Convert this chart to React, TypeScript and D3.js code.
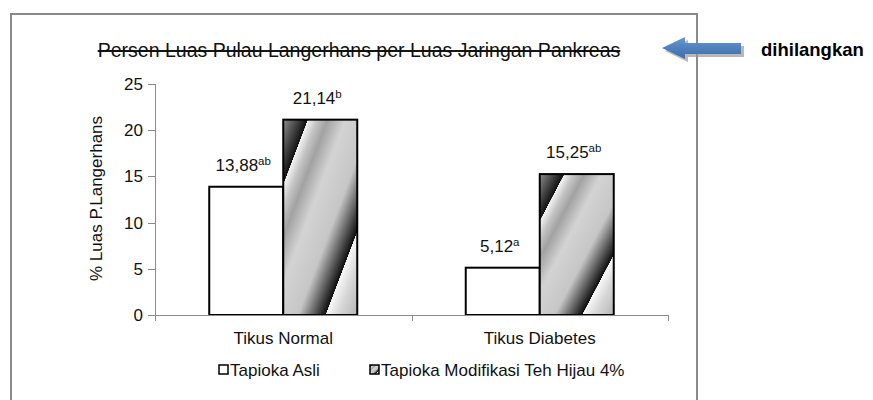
import React, { useEffect, useRef } from "react"
import * as d3 from "d3"

const categories = ["Tikus Normal", "Tikus Diabetes"]
const series = ["Tapioka Asli", "Tapioka Modifikasi Teh Hijau 4%"]
// values per category, in series order
const valuesNormal = [13.88, 21.14]
const valuesDiabetes = [5.12, 15.25]
const lettersNormal = ["ab", "b"]
const lettersDiabetes = ["a", "ab"]
const yTicks = [0, 5, 10, 15, 20, 25]

const title = "Persen Luas Pulau Langerhans per Luas Jaringan Pankreas"
const yLabel = "% Luas P.Langerhans"
const note = "dihilangkan"

const FONT = "'Liberation Sans', Arial, sans-serif"

export default function App() {
  const ref = useRef<SVGSVGElement>(null)

  useEffect(() => {
    if (!ref.current) return
    const svg = d3.select(ref.current)
    svg.selectAll("*").remove()

    const width = 873
    const height = 400
    const plot = { left: 155, right: 668, top: 84, bottom: 315 }

    const rows = categories.map((c, i) => ({
      category: c,
      values: i === 0 ? valuesNormal : valuesDiabetes,
      letters: i === 0 ? lettersNormal : lettersDiabetes,
    }))

    const x0 = d3
      .scaleBand<string>()
      .domain(categories)
      .range([plot.left, plot.right])
      .paddingInner(0.423)
      .paddingOuter(0.2115)

    const x1 = d3.scaleBand<string>().domain(series).range([0, x0.bandwidth()])

    const y = d3.scaleLinear().domain([0, 25]).range([plot.bottom, plot.top])

    // diagonal gradient stripe fill, stretched to each bar's box
    const defs = svg.append("defs")
    const grad = defs
      .append("linearGradient")
      .attr("id", "stripe")
      .attr("x1", 0)
      .attr("y1", 0)
      .attr("x2", 1)
      .attr("y2", 1)
    const stops: Array<[number, string]> = [
      [0, "#8e8e8e"],
      [0.165, "#111111"],
      [0.167, "#f4f4f4"],
      [0.23, "#c4c4c4"],
      [0.3, "#a2a2a2"],
      [0.42, "#d3d3d3"],
      [0.6, "#c6c6c6"],
      [0.785, "#0e0e0e"],
      [0.787, "#f8f8f8"],
      [0.87, "#d8d8d8"],
      [1, "#b4b4b4"],
    ]
    stops.forEach(([o, c]) => grad.append("stop").attr("offset", o).attr("stop-color", c))

    const arrowGrad = defs
      .append("linearGradient")
      .attr("id", "arrowFill")
      .attr("x1", 0)
      .attr("y1", 0)
      .attr("x2", 0)
      .attr("y2", 1)
    arrowGrad.append("stop").attr("offset", 0).attr("stop-color", "#6a98d0")
    arrowGrad.append("stop").attr("offset", 0.5).attr("stop-color", "#4f81bd")
    arrowGrad.append("stop").attr("offset", 1).attr("stop-color", "#3f6fae")

    svg.append("rect").attr("width", width).attr("height", height).attr("fill", "#ffffff")

    // chart border
    svg
      .append("rect")
      .attr("x", 11)
      .attr("y", 14)
      .attr("width", 686)
      .attr("height", 400)
      .attr("fill", "none")
      .attr("stroke", "#8a8a8a")
      .attr("stroke-width", 2)

    // title with strike-through
    svg
      .append("text")
      .attr("x", 359)
      .attr("y", 57)
      .attr("text-anchor", "middle")
      .attr("font-family", FONT)
      .attr("font-size", 19.5)
      .attr("fill", "#111")
      .attr("text-decoration", "line-through")
      .text(title)

    // y axis
    const yAxis = svg.append("g").attr("transform", `translate(${plot.left},0)`)
    yAxis
      .append("line")
      .attr("x1", 0.5)
      .attr("x2", 0.5)
      .attr("y1", y(25))
      .attr("y2", y(0))
      .attr("stroke", "#8a8a8a")
    yTicks.forEach((t) => {
      yAxis
        .append("line")
        .attr("x1", -7)
        .attr("x2", 0.5)
        .attr("y1", Math.round(y(t)) + 0.5)
        .attr("y2", Math.round(y(t)) + 0.5)
        .attr("stroke", "#8a8a8a")
      yAxis
        .append("text")
        .attr("x", -12)
        .attr("y", y(t) + 6)
        .attr("text-anchor", "end")
        .attr("font-family", FONT)
        .attr("font-size", 17)
        .attr("fill", "#111")
        .text(t)
    })

    svg
      .append("text")
      .attr("transform", `translate(102,${(y(0) + y(25)) / 2 - 1}) rotate(-90)`)
      .attr("text-anchor", "middle")
      .attr("font-family", FONT)
      .attr("font-size", 17)
      .attr("fill", "#111")
      .text(yLabel)

    // bars
    const groups = svg
      .append("g")
      .selectAll("g")
      .data(rows)
      .join("g")
      .attr("transform", (d) => `translate(${x0(d.category)},0)`)

    groups
      .selectAll("rect")
      .data((d) => d.values.map((v, i) => ({ v, s: series[i] })))
      .join("rect")
      .attr("x", (d) => x1(d.s)!)
      .attr("y", (d) => y(d.v))
      .attr("width", x1.bandwidth())
      .attr("height", (d) => y(0) - y(d.v))
      .attr("fill", (d, i) => (i === 0 ? "#ffffff" : "url(#stripe)"))
      .attr("stroke", "#000")
      .attr("stroke-width", 2)

    const labels = groups
      .selectAll("text")
      .data((d) => d.values.map((v, i) => ({ v, s: series[i], letter: d.letters[i] })))
      .join("text")
      .attr("x", (d) => x1(d.s)! + x1.bandwidth() / 2 - 3)
      .attr("y", (d) => y(d.v) - 16)
      .attr("text-anchor", "middle")
      .attr("font-family", FONT)
      .attr("font-size", 17)
      .attr("fill", "#111")
    labels.append("tspan").text((d) => d.v.toFixed(2).replace(".", ","))
    labels
      .append("tspan")
      .attr("font-size", 11.5)
      .attr("dy", -6)
      .text((d) => d.letter)

    // x axis
    const xAxis = svg.append("g")
    xAxis
      .append("line")
      .attr("x1", plot.left)
      .attr("x2", plot.right)
      .attr("y1", y(0) + 0.5)
      .attr("y2", y(0) + 0.5)
      .attr("stroke", "#8a8a8a")
    const bounds = [plot.left, ...categories.map((c) => x0(c)! + x0.bandwidth() + (x0.step() - x0.bandwidth()) / 2)]
    bounds.forEach((b) => {
      xAxis
        .append("line")
        .attr("x1", Math.round(b) + 0.5)
        .attr("x2", Math.round(b) + 0.5)
        .attr("y1", y(0))
        .attr("y2", y(0) + 6)
        .attr("stroke", "#8a8a8a")
    })
    xAxis
      .selectAll("text")
      .data(categories)
      .join("text")
      .attr("x", (d) => x0(d)! + x0.bandwidth() / 2)
      .attr("y", 344)
      .attr("text-anchor", "middle")
      .attr("font-family", FONT)
      .attr("font-size", 17)
      .attr("fill", "#111")
      .text((d) => d)

    // legend
    const legendX = [219, 370]
    const legend = svg
      .append("g")
      .selectAll("g")
      .data(series)
      .join("g")
      .attr("transform", (d, i) => `translate(${legendX[i]},365)`)
    legend
      .append("rect")
      .attr("width", 9)
      .attr("height", 9)
      .attr("fill", (d, i) => (i === 0 ? "#fff" : "url(#stripe)"))
      .attr("stroke", "#000")
      .attr("stroke-width", 1.5)
    legend
      .append("text")
      .attr("x", 11)
      .attr("y", 11)
      .attr("font-family", FONT)
      .attr("font-size", 17)
      .attr("fill", "#111")
      .text((d) => d)

    // arrow pointing to the title
    const arrowPath = "M662,48 L685,37 L685,43 L741,43 L741,54 L685,54 L685,59 Z"
    svg
      .append("path")
      .attr("d", arrowPath)
      .attr("transform", "translate(3,3)")
      .attr("fill", "#9a9a9a")
      .attr("opacity", 0.7)
    svg.append("path").attr("d", arrowPath).attr("fill", "url(#arrowFill)")

    svg
      .append("text")
      .attr("x", 761)
      .attr("y", 56)
      .attr("font-family", FONT)
      .attr("font-size", 18.5)
      .attr("font-weight", "bold")
      .attr("fill", "#000")
      .text(note)
  }, [])

  return (
    <svg
      ref={ref}
      width={873}
      height={400}
      style={{ position: "absolute", left: 0, top: 0, display: "block" }}
    />
  )
}
